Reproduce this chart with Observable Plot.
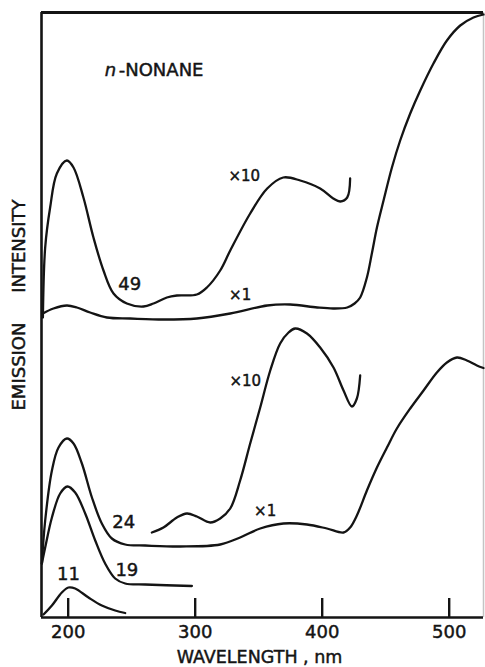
<!DOCTYPE html>
<html>
<head>
<meta charset="utf-8">
<script src="https://cdn.jsdelivr.net/npm/d3@7"></script>
<script src="https://cdn.jsdelivr.net/npm/@observablehq/plot@0.6"></script>
<style>
  html, body { margin: 0; padding: 0; background: #fff; }
  #chart svg { display: block; }
  #chart svg text { stroke: #141414; stroke-width: 0.45px; }
</style>
</head>
<body>
<div id="chart"></div>
<script>
// Emission spectra of n-nonane; wavelength in nm, intensity in arbitrary units.
const wavelengthTicks = [200, 300, 400, 500];

// "49" spectrum, ×10 gain (ends near 422 nm)
const spec49x10 = [
  [180.1, 30.0], [181.9, 37.0], [185.8, 41.0], [191.1, 44.4], [199.0, 45.7],
  [204.2, 45.0], [212.0, 42.0], [219.9, 38.0], [227.8, 34.7], [235.7, 32.4],
  [246.2, 31.4], [259.3, 31.1], [267.2, 31.4], [277.7, 32.0], [285.6, 32.2],
  [301.3, 32.3], [309.2, 33.0], [319.7, 34.7], [327.6, 36.7], [343.3, 40.4],
  [356.7, 42.9], [369.3, 44.0], [382.7, 43.7], [398.4, 42.9], [408.7, 41.9],
  [414.2, 41.6], [419.7, 42.0], [422.0, 43.9]
];

// "49" spectrum, ×1 gain
const spec49x1 = [
  [180.1, 30.4], [188.4, 30.9], [199.0, 31.2], [206.9, 31.0], [217.3, 30.5],
  [230.5, 30.0], [248.8, 29.9], [275.0, 29.8], [301.3, 29.9], [327.6, 30.4],
  [356.7, 31.2], [374.8, 31.3], [396.1, 31.0], [408.7, 30.9], [419.7, 31.0],
  [425.5, 31.4], [429.9, 32.0], [435.2, 34.0], [439.1, 36.4], [443.1, 39.0],
  [448.3, 41.7], [454.9, 45.0], [461.4, 47.7], [469.3, 50.4], [477.2, 52.7],
  [487.6, 55.4], [498.2, 57.7], [508.7, 59.2], [519.1, 60.0], [527.0, 60.3]
];

// "24" spectrum, ×10 gain (266–430 nm)
const spec24x10 = [
  [265.9, 8.5], [275.0, 9.0], [285.6, 10.0], [293.5, 10.4], [301.3, 10.1],
  [311.8, 9.5], [319.7, 9.9], [327.6, 10.9], [335.4, 13.7], [343.3, 17.4],
  [351.2, 21.0], [359.1, 24.7], [366.9, 27.4], [373.5, 28.5], [378.7, 28.9],
  [388.0, 28.4], [398.4, 27.0], [408.9, 25.0], [416.8, 22.7], [423.4, 21.1],
  [427.3, 21.9], [429.9, 24.2]
];

// "24" spectrum, ×1 gain
const spec24x1 = [
  [179.3, 5.4], [181.9, 9.7], [187.2, 14.7], [192.4, 17.0], [199.0, 17.9],
  [204.2, 17.4], [210.8, 15.4], [218.7, 12.0], [226.5, 9.4], [234.4, 7.9],
  [244.9, 7.3], [260.6, 7.2], [288.2, 7.1], [319.7, 7.3], [335.4, 8.0],
  [351.2, 8.9], [369.5, 9.4], [388.0, 9.3], [403.7, 8.9], [416.8, 8.5],
  [422.0, 9.0], [427.3, 10.2], [435.2, 12.7], [443.1, 15.0], [451.0, 17.0],
  [458.8, 18.9], [469.3, 20.9], [479.8, 22.7], [490.3, 24.5], [498.2, 25.5],
  [506.1, 26.0], [513.9, 25.7], [521.8, 25.2], [527.0, 24.95]
];

// "19" spectrum
const spec19 = [
  [179.3, 5.4], [181.9, 7.0], [187.2, 10.0], [193.7, 12.4], [199.4, 13.1],
  [205.5, 12.5], [213.4, 10.4], [221.3, 7.7], [229.1, 5.4], [237.0, 3.9],
  [244.9, 3.4], [260.6, 3.3], [297.4, 3.15]
];

// "11" spectrum
const spec11 = [
  [180.6, 0.3], [187.2, 1.2], [195.0, 2.5], [200.2, 3.0], [205.5, 2.9],
  [216.0, 2.0], [226.5, 1.2], [237.0, 0.7], [244.9, 0.45]
];

const seriesNames = ["49 ×10", "49 ×1", "24 ×10", "24 ×1", "19", "11"];
const seriesPoints = [spec49x10, spec49x1, spec24x10, spec24x1, spec19, spec11];

// Curve annotations: text, wavelength, intensity
const labelTexts = ["×10", "49", "×1", "×10", "24", "×1", "19", "11"];
const labelWl    = [338.6, 248.4, 335.4, 339.4, 243.8, 355.1, 246.2, 200.2];
const labelI     = [44.1, 33.35, 32.2, 23.6, 9.5, 10.6, 4.7, 4.3];
const labelSize  = [15, 18, 15, 15, 18, 15, 18, 18];

// compound name placement: italic "n" ends at the first wavelength, the rest starts at the second
const titleWl = [237.8, 239.8];
const titleI = 54.7;

const lineData = seriesNames.flatMap((name, i) =>
  seriesPoints[i].map(([wl, I]) => ({series: name, wl, I}))
);
const labelData = labelTexts.map((t, i) => ({t, wl: labelWl[i], I: labelI[i], size: labelSize[i]}));

const ink = "#141414";
const xDomain = [179, 527];
const yDomain = [0, 60.5];

const chart = Plot.plot({
  width: 485,
  height: 667,
  marginTop: 12,
  marginRight: 2,
  marginBottom: 50,
  marginLeft: 41,
  style: {fontFamily: "DejaVu Sans, sans-serif", fontSize: "18px", color: ink, background: "#fff"},
  x: {domain: xDomain, axis: null},
  y: {domain: yDomain, axis: null},
  marks: [
    // frame
    Plot.ruleX([xDomain[1]], {stroke: "#c4c4c4", strokeWidth: 1.5}),
    Plot.ruleX([xDomain[0]], {stroke: ink, strokeWidth: 2.6}),
    Plot.ruleY([yDomain[0]], {stroke: ink, strokeWidth: 2.6}),
    Plot.ruleY([yDomain[1]], {stroke: ink, strokeWidth: 3}),
    // inward ticks with labels below the frame
    Plot.axisX(wavelengthTicks, {
      anchor: "bottom", tickSize: -19, tickPadding: 27, strokeWidth: 2.4,
      fontSize: 18, label: null, tickFormat: d => String(d)
    }),
    // spectra
    Plot.line(lineData, {
      x: "wl", y: "I", z: "series", stroke: ink, strokeWidth: 2.3,
      curve: "catmull-rom", strokeLinecap: "round", strokeLinejoin: "round"
    }),
    // curve annotations
    Plot.text(labelData, {
      x: "wl", y: "I", text: "t", fontSize: d => d.size, fill: ink,
      textAnchor: "middle", lineAnchor: "middle"
    }),
    // compound name
    Plot.text(["n"], {x: titleWl[0], y: titleI, fontStyle: "italic", fontSize: 18,
      textAnchor: "end", lineAnchor: "middle", fill: ink}),
    Plot.text(["-NONANE"], {x: titleWl[1], y: titleI, fontSize: 18,
      textAnchor: "start", lineAnchor: "middle", fill: ink}),
    // axis titles
    Plot.text(["WAVELENGTH , nm"], {frameAnchor: "bottom", dy: 40, dx: -3,
      fontSize: 17.5, lineAnchor: "middle", fill: ink}),
    Plot.text(["EMISSION INTENSITY"], {frameAnchor: "left", dx: -22, dy: 95.5,
      rotate: -90, fontSize: 18, textAnchor: "start", lineAnchor: "middle", fill: ink})
  ]
});

document.getElementById("chart").appendChild(chart);

// widen the gap between the two words of the vertical title
chart.querySelectorAll("text").forEach(t => {
  if (t.textContent === "EMISSION INTENSITY") t.style.wordSpacing = "24px";
});
</script>
</body>
</html>
